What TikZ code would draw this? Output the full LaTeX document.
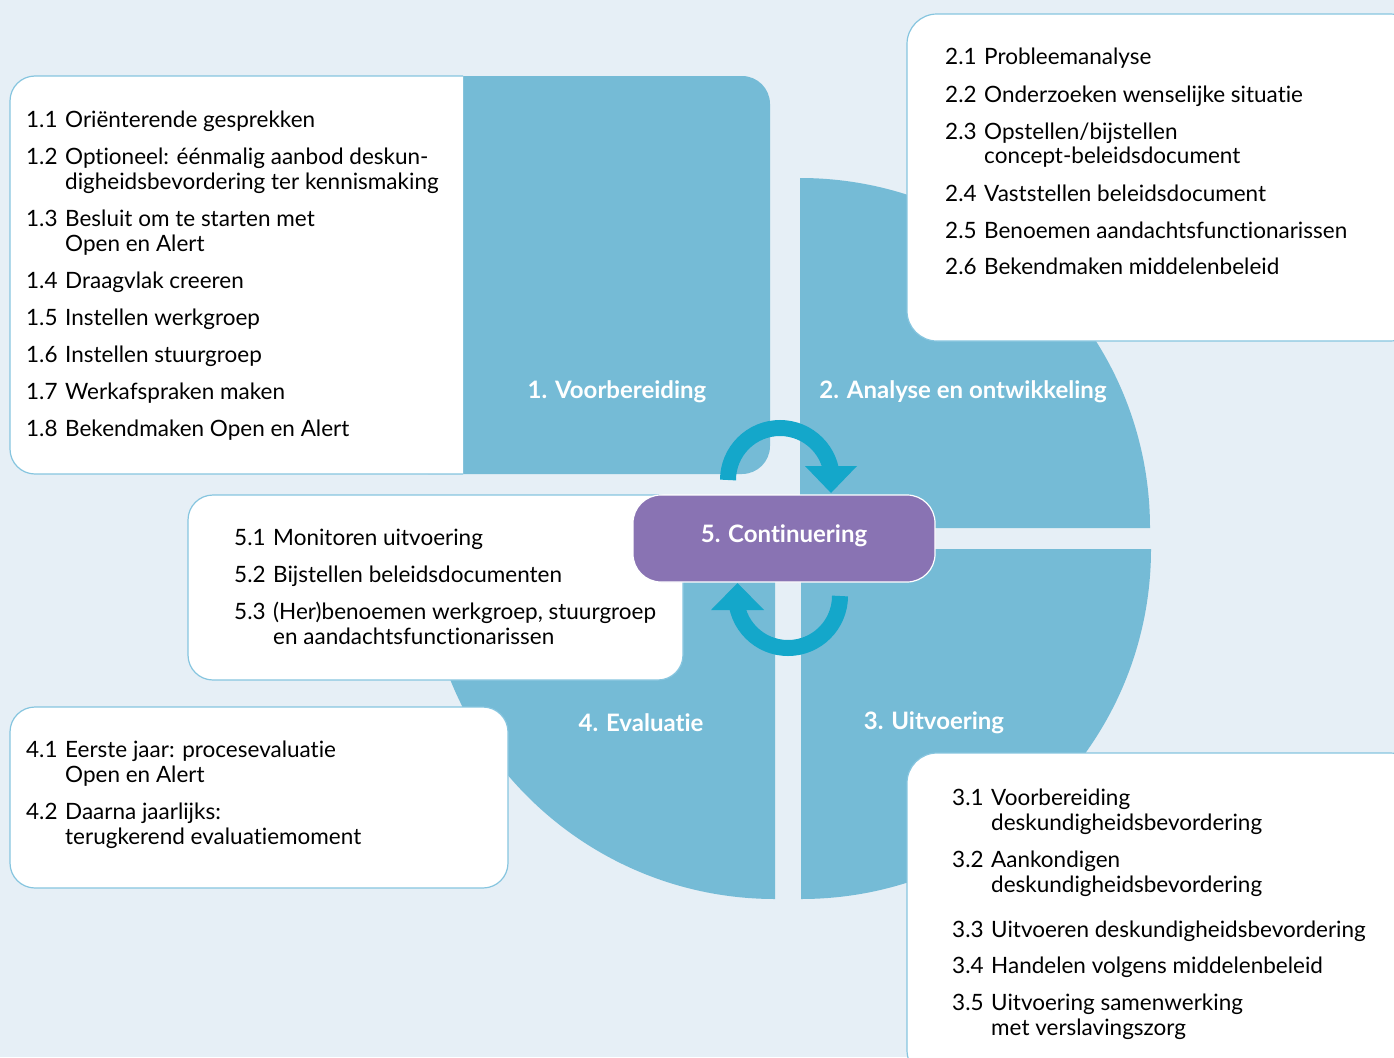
\documentclass[tikz,border=0pt]{standalone}
\usepackage{fontspec}
\setmainfont{Lato}[Ligatures=NoCommon]
\usepackage{array}

\definecolor{bgblue}{HTML}{E6EFF6}
\definecolor{quadblue}{HTML}{75BBD6}
\definecolor{cycblue}{HTML}{14A7CA}
\definecolor{contpurple}{HTML}{8973B3}
\definecolor{boxline}{HTML}{86C5DF}

\begin{document}
\begin{tikzpicture}[x=1pt, y=-1pt,
  every node/.style={inner sep=0pt, font=\fontsize{22.5}{25}\selectfont},
  phase/.style={text=white, font=\fontsize{24}{25}\selectfont\bfseries},
  listbox/.style={fill=white, draw=boxline, line width=1.2pt, rounded corners=25pt},
  items/.style={anchor=base west},
  quarter/.style={fill=quadblue},
  cyclearc/.style={draw=cycblue, line width=16pt},
  cycletip/.style={fill=cycblue}]

\fill[bgblue] (0,0) rectangle (1394,1057);
\useasboundingbox (0,0) rectangle (1394,1057);

\fill[quarter, rounded corners=28pt] (400,76) rectangle (770,474);
\fill[quarter] (800,528) -- (800,178) arc[start angle=-90, end angle=0, radius=350] -- cycle;
\fill[quarter] (801,549) -- (1151,549) arc[start angle=0, end angle=90, radius=350] -- cycle;
\fill[quarter] (775,549) -- (775,899) arc[start angle=90, end angle=180, radius=350] -- cycle;

\filldraw[listbox] (463,474) -- (10,474) -- (10,76) -- (463,76);
\filldraw[listbox, rounded corners=30pt] (907,14) rectangle (1420,341);
\filldraw[listbox, rounded corners=30pt] (907,753) rectangle (1420,1080);
\filldraw[listbox] (10,707) rectangle (508,888);
\filldraw[listbox] (188,495) rectangle (683,680);

\node[items] (list1) at (26,127) {\begin{tabular}[t]{@{}p{39pt}@{}l@{}}
1.1 & Oriënterende gesprekken\\[12pt]
1.2 & Optioneel: éénmalig aanbod deskun-\\
    & digheidsbevordering ter kennismaking\\[12pt]
1.3 & Besluit om te starten met\\
    & Open en Alert\\[12pt]
1.4 & Draagvlak creeren\\[12pt]
1.5 & Instellen werkgroep\\[12pt]
1.6 & Instellen stuurgroep\\[12pt]
1.7 & Werkafspraken maken\\[12pt]
1.8 & Bekendmaken Open en Alert
\end{tabular}};

\node[items] (list2) at (945,65) {\begin{tabular}[t]{@{}p{39pt}@{}l@{}}
2.1 & Probleemanalyse\\[12pt]
2.2 & Onderzoeken wenselijke situatie\\[12pt]
2.3 & Opstellen/bijstellen\\
    & concept-beleidsdocument\\[12pt]
2.4 & Vaststellen beleidsdocument\\[12pt]
2.5 & Benoemen aandachtsfunctionarissen\\[12pt]
2.6 & Bekendmaken middelenbeleid
\end{tabular}};

\node[items] (list3) at (952,805) {\begin{tabular}[t]{@{}p{39pt}@{}l@{}}
3.1 & Voorbereiding\\
    & deskundigheidsbevordering\\[12pt]
3.2 & Aankondigen\\
    & deskundigheidsbevordering\\[20pt]
3.3 & Uitvoeren deskundigheidsbevordering\\[11pt]
3.4 & Handelen volgens middelenbeleid\\[12pt]
3.5 & Uitvoering samenwerking\\
    & met verslavingszorg
\end{tabular}};

\node[items] (list4) at (26,757) {\begin{tabular}[t]{@{}p{39pt}@{}l@{}}
4.1 & Eerste jaar: procesevaluatie\\
    & Open en Alert\\[12pt]
4.2 & Daarna jaarlijks:\\
    & terugkerend evaluatiemoment
\end{tabular}};

\node[items] (list5) at (234,545) {\begin{tabular}[t]{@{}p{39pt}@{}l@{}}
5.1 & Monitoren uitvoering\\[12pt]
5.2 & Bijstellen beleidsdocumenten\\[12pt]
5.3 & (Her)benoemen werkgroep, stuurgroep\\
    & en aandachtsfunctionarissen
\end{tabular}};

\node[phase] (ph1) at (617,392) {1. Voorbereiding};
\node[phase] (ph2) at (963,392) {2. Analyse en ontwikkeling};
\node[phase] (ph3) at (934,723) {3. Uitvoering};
\node[phase] (ph4) at (641,723) {4. Evaluatie};
\node[phase, fill=contpurple, draw=white, line width=1.2pt, rounded corners=28pt,
  text height=17pt, text depth=9pt,
  minimum width=302pt, minimum height=87pt] (cont) at (784,538.5) {5. Continuering};

\coordinate (topstart) at (728,480);
\coordinate (botstart) at (840,596);
\draw[cyclearc] (topstart) arc[start angle=180, end angle=360, radius=52];
\fill[cycletip] (805,466) -- (857,466) -- (831,493) -- cycle;
\draw[cyclearc] (botstart) arc[start angle=0, end angle=180, radius=52];
\fill[cycletip] (711,610) -- (764,610) -- (737.5,583) -- cycle;
\end{tikzpicture}
\end{document}
